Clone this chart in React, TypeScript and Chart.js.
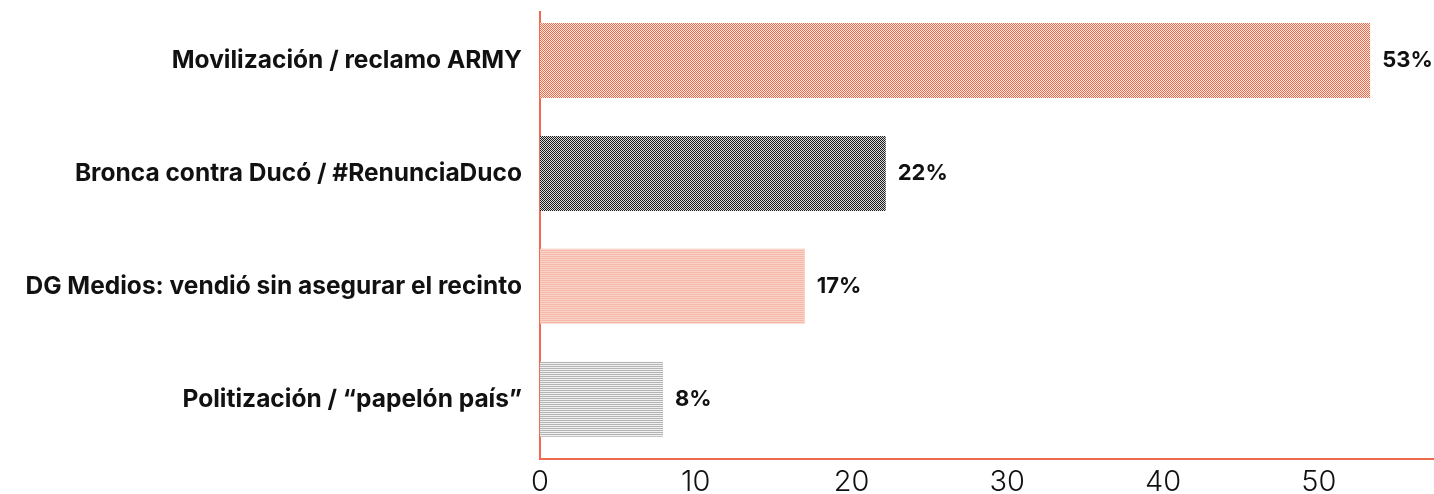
import React, { useEffect, useRef } from "react";
import { Chart, registerables } from "chart.js";

Chart.register(...registerables);

const categories: string[] = [
  "Movilización / reclamo ARMY",
  "Bronca contra Ducó / #RenunciaDuco",
  "DG Medios: vendió sin asegurar el recinto",
  "Politización / “papelón país”",
];
const values: number[] = [53.3, 22.2, 17.0, 7.9];
const valueLabels: string[] = ["53%", "22%", "17%", "8%"];
const xTicks: number[] = [0, 10, 20, 30, 40, 50];

type PatSpec = { kind: "checker" | "rows"; a: string; b: string };
const patternSpecs: PatSpec[] = [
  { kind: "checker", a: "#f0694a", b: "#ffebe5" },
  { kind: "checker", a: "#1c1c1c", b: "#dadada" },
  { kind: "rows", a: "#f5b8a9", b: "#fad3c9" },
  { kind: "rows", a: "#b4b4b4", b: "#f0f0f0" },
];

function makePattern(ctx: CanvasRenderingContext2D, spec: PatSpec): CanvasPattern | string {
  const c = document.createElement("canvas");
  c.width = 2;
  c.height = 2;
  const g = c.getContext("2d");
  if (!g) return spec.a;
  if (spec.kind === "checker") {
    g.fillStyle = spec.b;
    g.fillRect(0, 0, 2, 2);
    g.fillStyle = spec.a;
    g.fillRect(0, 0, 1, 1);
    g.fillRect(1, 1, 1, 1);
  } else {
    g.fillStyle = spec.b;
    g.fillRect(0, 0, 2, 2);
    g.fillStyle = spec.a;
    g.fillRect(0, 0, 2, 1);
  }
  return ctx.createPattern(c, "repeat") || spec.a;
}

const valueLabelPlugin = {
  id: "valueLabels",
  afterDatasetsDraw(chart: any) {
    const ctx = chart.ctx;
    const meta = chart.getDatasetMeta(0);
    ctx.save();
    ctx.font = "700 22px Inter, 'DejaVu Sans', sans-serif";
    ctx.fillStyle = "#111111";
    ctx.textAlign = "left";
    ctx.textBaseline = "middle";
    meta.data.forEach((bar: any, i: number) => {
      ctx.fillText(valueLabels[i], bar.x + 12, bar.y);
    });
    ctx.restore();
  },
};

export default function App() {
  const ref = useRef<HTMLCanvasElement | null>(null);

  useEffect(() => {
    document.body.style.margin = "0";
    const canvas = ref.current;
    if (!canvas) return;
    const ctx = canvas.getContext("2d");
    if (!ctx) return;
    const fills = patternSpecs.map((p) => makePattern(ctx, p));
    const chart = new Chart(canvas, {
      type: "bar",
      data: {
        datasets: [
          {
            data: values.map((v, i) => ({ x: v, y: i })) as any,
            backgroundColor: fills as any,
            borderWidth: 0,
            categoryPercentage: 1,
            barPercentage: 0.665,
          },
        ],
      },
      options: {
        indexAxis: "y",
        animation: false,
        responsive: true,
        maintainAspectRatio: false,
        layout: { padding: { top: 12, right: 0, left: 0, bottom: 0 } },
        plugins: {
          legend: { display: false },
          tooltip: { enabled: false },
        },
        scales: {
          x: {
            type: "linear",
            min: 0,
            max: 57.4,
            offset: false,
            grid: { display: false, drawTicks: false },
            border: { display: true, color: "#f06a50", width: 2 },
            afterFit: (s: any) => {
              s.height = 35;
              s.paddingLeft = 0;
              s.paddingRight = 0;
            },
            afterBuildTicks: (s: any) => {
              s.ticks = xTicks.map((v) => ({ value: v }));
            },
            ticks: {
              includeBounds: false,
              padding: 6,
              color: "#111111",
              font: { family: "Inter, 'DejaVu Sans', sans-serif", size: 29, weight: 300 as any },
            },
          },
          y: {
            type: "linear",
            reverse: true,
            offset: false,
            min: -0.43,
            max: 3.53,
            grid: { display: false, drawTicks: false },
            border: { display: true, color: "#f06a50", width: 2 },
            afterFit: (s: any) => {
              s.width = 540;
              s.paddingTop = 0;
              s.paddingBottom = 0;
            },
            afterBuildTicks: (s: any) => {
              s.ticks = categories.map((_, i) => ({ value: i }));
            },
            ticks: {
              padding: 18,
              color: "#111111",
              font: { family: "Inter, 'DejaVu Sans', sans-serif", size: 24.5, weight: 700 as any },
              callback: (v: any) => categories[Math.round(Number(v))] ?? "",
            },
          },
        },
      },
      plugins: [valueLabelPlugin],
    });
    return () => chart.destroy();
  }, []);

  return (
    <div style={{ width: 1434, height: 494, position: "relative" }}>
      <canvas ref={ref} />
    </div>
  );
}
